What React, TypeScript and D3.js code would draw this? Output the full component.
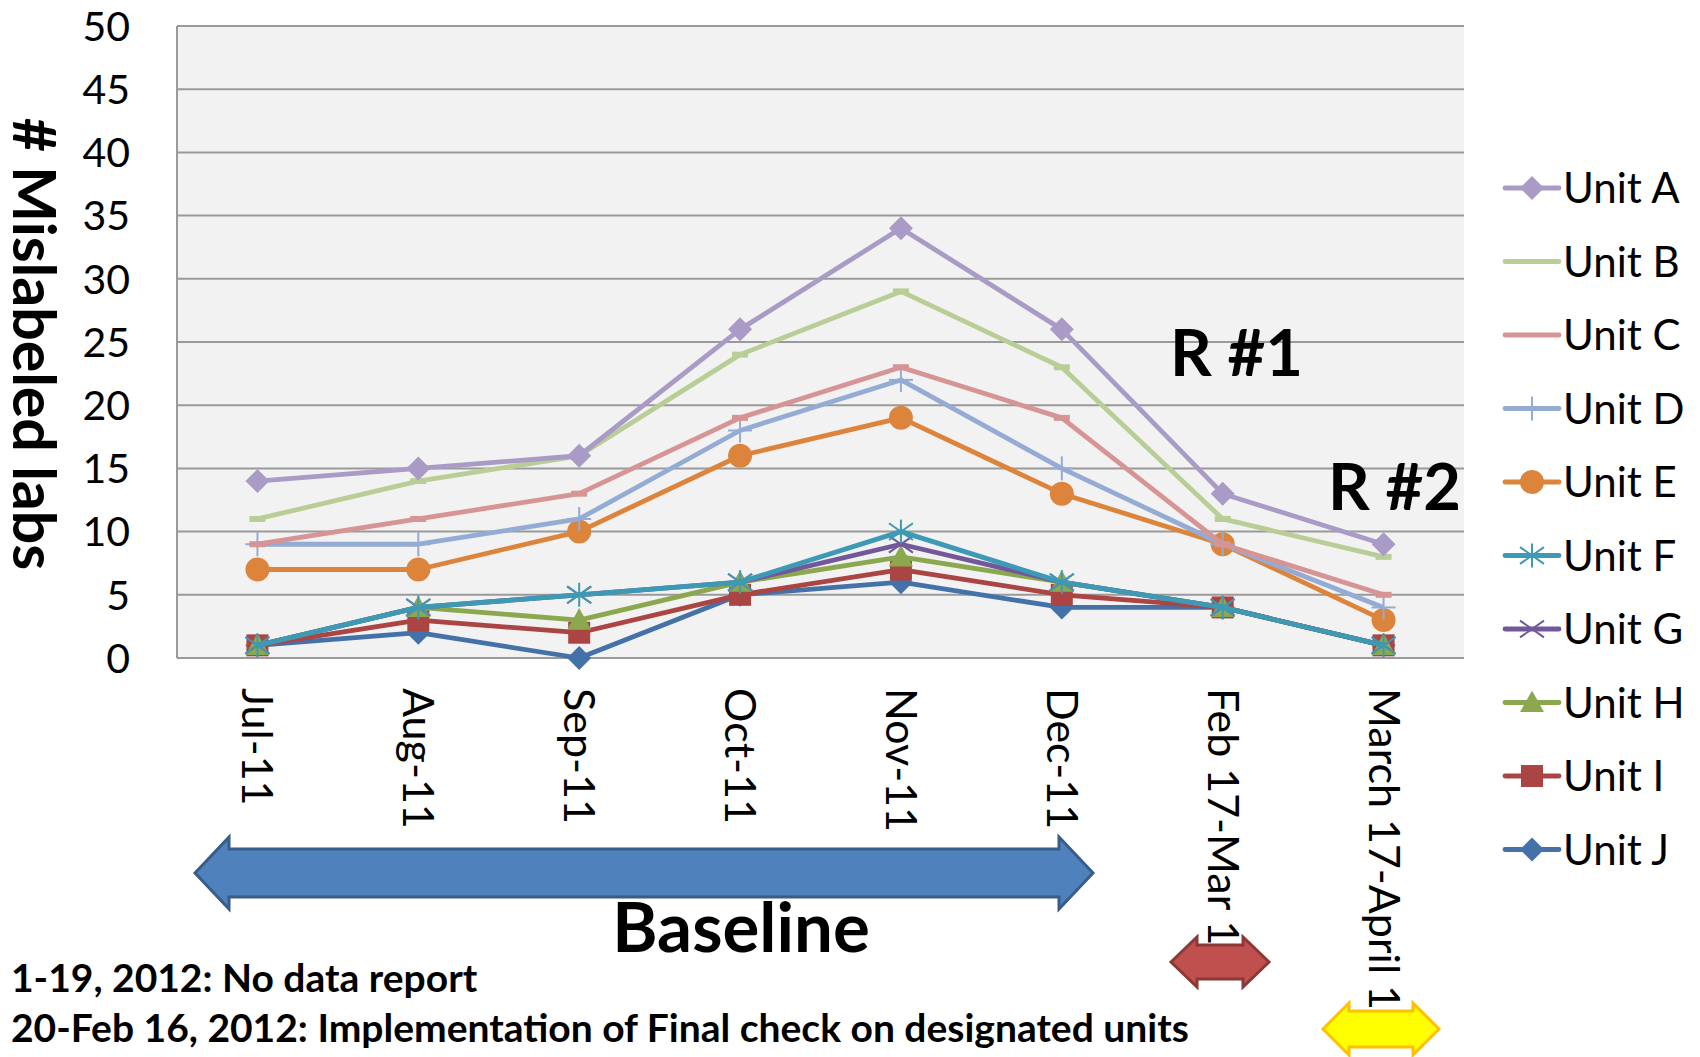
import React from "react";
import * as d3 from "d3";

const categories = ["Jul-11", "Aug-11", "Sep-11", "Oct-11", "Nov-11", "Dec-11", "Feb 17-Mar 1", "March 17-April 1"];
const unitNames = ["Unit A", "Unit B", "Unit C", "Unit D", "Unit E", "Unit F", "Unit G", "Unit H", "Unit I", "Unit J"];
const unitA = [14, 15, 16, 26, 34, 26, 13, 9];
const unitB = [11, 14, 16, 24, 29, 23, 11, 8];
const unitC = [9, 11, 13, 19, 23, 19, 9, 5];
const unitD = [9, 9, 11, 18, 22, 15, 9, 4];
const unitE = [7, 7, 10, 16, 19, 13, 9, 3];
const unitF = [1, 4, 5, 6, 10, 6, 4, 1];
const unitG = [1, 4, 5, 6, 9, 6, 4, 1];
const unitH = [1, 4, 3, 6, 8, 6, 4, 1];
const unitI = [1, 3, 2, 5, 7, 5, 4, 1];
const unitJ = [1, 2, 0, 5, 6, 4, 4, 1];
const yTicks = [0, 5, 10, 15, 20, 25, 30, 35, 40, 45, 50];

const seriesValues = [unitA, unitB, unitC, unitD, unitE, unitF, unitG, unitH, unitI, unitJ];
const colors = ["#A99BC6", "#B9CE96", "#D69494", "#94ABD3", "#DD843C", "#3E9AB4", "#72589A", "#8BA84F", "#AB4543", "#4472A8"];
const markers = ["diamond", "dash", "dash", "plus", "circle", "asterisk", "x", "triangle", "square", "diamond"];

const FONT = "Lato, 'Open Sans', sans-serif";

function Marker({ type, color, x, y }: { type: string; color: string; x: number; y: number }) {
  const s = 12;
  switch (type) {
    case "diamond":
      return <path d={`M${x},${y - s}L${x + s},${y}L${x},${y + s}L${x - s},${y}Z`} fill={color} />;
    case "dash":
      return <rect x={x - 8} y={y - 3} width={16} height={6} fill={color} />;
    case "plus":
      return (
        <g stroke={color} strokeWidth={2}>
          <line x1={x - s} y1={y} x2={x + s} y2={y} />
          <line x1={x} y1={y - s} x2={x} y2={y + s} />
        </g>
      );
    case "circle":
      return <ellipse cx={x} cy={y} rx={12} ry={12} fill={color} />;
    case "asterisk":
      return (
        <g stroke={color} strokeWidth={2}>
          <line x1={x - s} y1={y - s * 0.7} x2={x + s} y2={y + s * 0.7} />
          <line x1={x - s} y1={y + s * 0.7} x2={x + s} y2={y - s * 0.7} />
          <line x1={x} y1={y - s} x2={x} y2={y + s} />
        </g>
      );
    case "x":
      return (
        <g stroke={color} strokeWidth={2}>
          <line x1={x - s} y1={y - s * 0.7} x2={x + s} y2={y + s * 0.7} />
          <line x1={x - s} y1={y + s * 0.7} x2={x + s} y2={y - s * 0.7} />
        </g>
      );
    case "triangle":
      return <path d={`M${x},${y - s}L${x + s},${y + s * 0.8}L${x - s},${y + s * 0.8}Z`} fill={color} />;
    case "square":
      return <rect x={x - 11} y={y - 11} width={22} height={22} fill={color} />;
    default:
      return null;
  }
}

function DoubleArrow({ x0, x1, cy, shaftH, headH, headL, fill, stroke }: any) {
  const sh = shaftH / 2;
  const hh = headH / 2;
  const d = `M${x0},${cy} L${x0 + headL},${cy - hh} L${x0 + headL},${cy - sh} L${x1 - headL},${cy - sh} L${x1 - headL},${cy - hh} L${x1},${cy} L${x1 - headL},${cy + hh} L${x1 - headL},${cy + sh} L${x0 + headL},${cy + sh} L${x0 + headL},${cy + hh} Z`;
  return <path d={d} fill={fill} stroke={stroke} strokeWidth={3} strokeLinejoin="miter" />;
}

export default function App() {
  const W = 1700;
  const H = 1057;
  const left = 177;
  const right = 1464;
  const top = 26;
  const bottom = 658;

  const x = d3.scalePoint<string>().domain(categories).range([left, right]).padding(0.5);
  const y = d3.scaleLinear().domain([0, 50]).range([bottom, top]);
  const line = d3
    .line<number>()
    .x((_, i) => x(categories[i]) as number)
    .y((v) => y(v));

  const order = d3.range(seriesValues.length).reverse();

  const legendX = 1505;
  const legendY0 = 188;
  const legendStep = 73.5;

  return (
    <svg width={W} height={H} style={{ display: "block", position: "absolute", left: 0, top: 0 }} fontFamily={FONT}>
      <rect x={0} y={0} width={W} height={H} fill="#ffffff" />
      {/* plot area */}
      <rect x={left} y={top} width={right - left} height={bottom - top} fill="#F2F2F2" />
      {yTicks.map((t) => (
        <line key={t} x1={left} x2={right} y1={y(t)} y2={y(t)} stroke="#9A9A9A" strokeWidth={2} />
      ))}
      <line x1={left} x2={left} y1={top} y2={bottom} stroke="#9A9A9A" strokeWidth={2} />

      {/* y ticks */}
      {yTicks.map((t) => (
        <text key={t} x={130} y={y(t)} dy="0.36em" textAnchor="end" fontSize={41} fill="#000">
          {t}
        </text>
      ))}
      {/* y title */}
      <text transform={`translate(13,344) rotate(90)`} textAnchor="middle" fontSize={59} fontWeight="bold" fill="#000">
        # Mislabeled labs
      </text>

      {/* x labels */}
      {categories.map((c) => (
        <text
          key={c}
          transform={`translate(${x(c)},688) rotate(90)`}
          dy="0.35em"
          textAnchor="start"
          fontSize={43}
          fill="#000"
        >
          {c}
        </text>
      ))}

      {/* series */}
      {order.map((si) => (
        <g key={unitNames[si]}>
          <path d={line(seriesValues[si]) as string} fill="none" stroke={colors[si]} strokeWidth={4.8} strokeLinejoin="round" />
          {seriesValues[si].map((v, i) => (
            <Marker key={i} type={markers[si]} color={colors[si]} x={x(categories[i]) as number} y={y(v)} />
          ))}
        </g>
      ))}

      {/* R labels */}
      <text x={1170} y={376} fontSize={65} fontWeight="bold" fill="#000">R #1</text>
      <text x={1328} y={510} fontSize={65} fontWeight="bold" fill="#000">R #2</text>

      {/* legend */}
      {unitNames.map((n, i) => {
        const ly = legendY0 + i * legendStep;
        return (
          <g key={n}>
            <line x1={legendX} x2={legendX + 54} y1={ly} y2={ly} stroke={colors[i]} strokeWidth={4.8} strokeLinecap="round" />
            {markers[i] !== "dash" && <Marker type={markers[i]} color={colors[i]} x={legendX + 27} y={ly} />}
            <text x={legendX + 58} y={ly} dy="0.36em" fontSize={42} fill="#000">
              {n}
            </text>
          </g>
        );
      })}

      {/* arrows */}
      <DoubleArrow x0={195} x1={1093} cy={873} shaftH={48} headH={72} headL={34} fill="#4F81BD" stroke="#385D8A" />
      <DoubleArrow x0={1171} x1={1269} cy={962} shaftH={34} headH={50} headL={26} fill="#C0504D" stroke="#8C3836" />
      <DoubleArrow x0={1323} x1={1439} cy={1029} shaftH={36} headH={52} headL={26} fill="#FFFF00" stroke="#FFC000" />

      <text x={741} y={952} textAnchor="middle" fontSize={69} fontWeight="bold" fill="#000">Baseline</text>
      <text x={11} y={992} fontSize={39} fontWeight="bold" fill="#000">1-19, 2012: No data report</text>
      <text x={11} y={1042} fontSize={39} fontWeight="bold" fill="#000">20-Feb 16, 2012: Implementation of Final check on designated units</text>
    </svg>
  );
}
